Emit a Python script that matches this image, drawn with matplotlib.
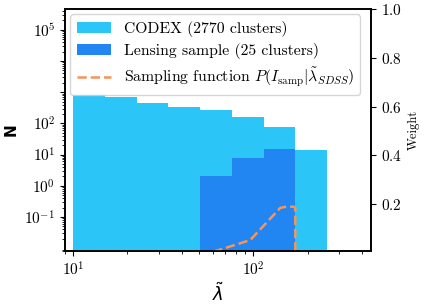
import numpy as np
import matplotlib
matplotlib.use('Agg')
import matplotlib.pyplot as plt
from matplotlib.ticker import FixedLocator, FixedFormatter, LogLocator, NullFormatter

plt.rcParams['font.family'] = 'serif'
plt.rcParams['font.serif'] = ['cmr10']
plt.rcParams['mathtext.fontset'] = 'cm'
plt.rcParams['axes.formatter.use_mathtext'] = True
plt.rcParams['font.size'] = 11

# histogram bins (richness) and counts
bin_edges = [10.0, 15.0, 22.5, 33.75, 50.6, 75.9, 113.9, 170.9, 256.3]
codex_counts = [790, 680, 450, 330, 265, 160, 75, 14]
lensing_counts = [0, 0, 0, 0, 2, 8, 15, 0]

# sampling function (weight)
samp_lambda = [50.6, 61.5, 96, 141, 152, 167, 170.9, 170.9]
samp_weight = [0.0, 0.008, 0.053, 0.185, 0.19, 0.19, 0.185, 0.0]

y_ticks = [1e-1, 1e0, 1e1, 1e2, 1e3, 1e4, 1e5]
y_ticklabels = [r'$10^{-1}$', r'$10^{0}$', r'$10^{1}$', r'$10^{2}$', '', '', r'$10^{5}$']

fig = plt.figure(figsize=(4.36, 3.07), dpi=100)
ax = fig.add_axes([0.149, 0.182, 0.702, 0.789])

centers = np.sqrt(np.array(bin_edges[:-1]) * np.array(bin_edges[1:]))
h1 = ax.hist(centers, bins=bin_edges, weights=codex_counts, color='#2bc6f7')
h2 = ax.hist(centers, bins=bin_edges, weights=lensing_counts, color='#2186f2')
ax.set_xscale('log')
ax.set_yscale('log')
ax.set_xlim(9.0, 450)
ax.set_ylim(8e-3, 4.7e5)
ax.yaxis.set_major_locator(FixedLocator(y_ticks))
ax.yaxis.set_major_formatter(FixedFormatter(y_ticklabels))
ax.yaxis.set_minor_locator(LogLocator(base=10, subs=np.arange(2, 10), numticks=20))
ax.yaxis.set_minor_formatter(NullFormatter())
ax.set_ylabel('N', family='DejaVu Sans', fontweight='bold', fontsize=11)
ax.set_xlabel(r'$\tilde{\lambda}$', math_fontfamily='dejavusans', fontsize=13,
              labelpad=2)

ax2 = ax.twinx()
ln, = ax2.plot(samp_lambda, samp_weight, '--', color='#f79459', lw=1.8)
ax2.set_ylim(0.008, 1.0)
ax2.set_yticks([0.2, 0.4, 0.6, 0.8, 1.0])
ax2.set_ylabel('Weight', fontsize=9)

ax.legend([h1[2][0], h2[2][0], ln],
          ['CODEX (2770 clusters)', 'Lensing sample (25 clusters)',
           r'Sampling function $P(I_{\rm samp}|\tilde{\lambda}_{SDSS})$'],
          loc='upper left', fontsize=11, labelspacing=0.42,
          borderaxespad=0.35, handlelength=2.2, prop={'size': 11.3})
for a in (ax, ax2):
    for s in a.spines.values():
        s.set_linewidth(1.2)

fig.savefig('out.png', dpi=100)
